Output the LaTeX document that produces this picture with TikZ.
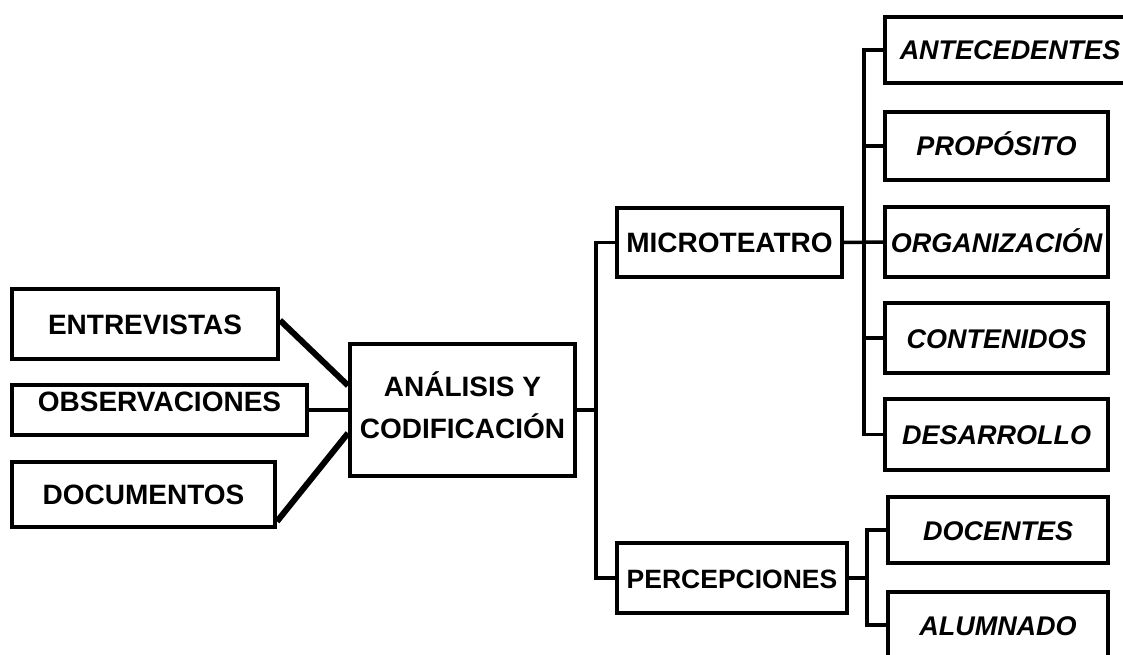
\documentclass[tikz,border=0pt]{standalone}
\usepackage{fontspec}
\setmainfont{Liberation Sans}
\usetikzlibrary{calc}
\begin{document}
\begin{tikzpicture}[x=1pt,y=-1pt,
 box/.style={draw,line width=4pt,inner sep=0pt,text height=20pt,text depth=0pt,font=\fontsize{28}{34}\selectfont\bfseries},
 ibox/.style={box,font=\fontsize{27}{32}\selectfont\bfseries\itshape},
 link/.style={line width=3.5pt},
 heavy/.style={line width=6pt}]
\useasboundingbox (0,0) rectangle (1123,655);
\clip (0,0) rectangle (1123,655);
% left sources
\node[box,minimum width=266pt,minimum height=70pt] (ent) at (145,324) {ENTREVISTAS};
\node[box,minimum width=295pt,minimum height=50pt] (obs) at (159.5,410) {\raisebox{9pt}{OBSERVACIONES}};
\node[box,minimum width=263pt,minimum height=65pt] (doc) at (143.5,494.5) {DOCUMENTOS};
% centre
\node[draw,line width=4pt,inner sep=0pt,align=center,minimum width=225pt,minimum height=132pt,
      text height=64pt,text depth=8pt,
      font=\fontsize{28}{42}\selectfont\bfseries] (ana) at (462.5,410) {ANÁLISIS Y\\CODIFICACIÓN};
% categories
\node[box,minimum width=225pt,minimum height=69pt] (mic) at (729.5,242.5) {MICROTEATRO};
\node[box,minimum width=230pt,minimum height=70pt,font=\fontsize{26.5}{32}\selectfont\bfseries] (per) at (732,578) {PERCEPCIONES};
% subcategories
\node[ibox,minimum width=250pt,minimum height=66pt] (ant) at (1010,50) {ANTECEDENTES};
\node[ibox,minimum width=223pt,minimum height=68pt] (pro) at (996.5,146) {PROPÓSITO};
\node[ibox,minimum width=223pt,minimum height=70pt] (org) at (996.5,242) {ORGANIZACIÓN};
\node[ibox,minimum width=223pt,minimum height=70pt] (con) at (996.5,338) {CONTENIDOS};
\node[ibox,minimum width=223pt,minimum height=71pt] (des) at (996.5,434.5) {DESARROLLO};
\node[ibox,minimum width=220pt,minimum height=66pt] (dcn) at (998,530) {DOCENTES};
\node[ibox,minimum width=220pt,minimum height=66pt] (alu) at (998,625) {ALUMNADO};
% connectors left
\draw[heavy] ($(ent.north east)!0.45!(ent.south east)$) -- ($(ana.north west)!0.32!(ana.south west)$);
\draw[link] (obs.east) -- (ana.west);
\draw[heavy] ($(doc.north east)!0.89!(doc.south east)$) -- ($(ana.north west)!0.67!(ana.south west)$);
% trunk to categories
\coordinate (t1) at (596,410);
\draw[link] (ana.east) -- (t1);
\draw[link] (mic.west) -| (t1) |- (per.west);
% microteatro branch
\coordinate (t2) at (864,242);
\draw[link] (mic.east) -- (org.west);
\draw[link] (ant.west) -| (t2) |- (des.west);
\draw[link] (pro.west) -- (pro.west -| t2);
\draw[link] (con.west) -- (con.west -| t2);
% percepciones branch
\coordinate (t3) at (867,578);
\draw[link] (per.east) -- (t3);
\draw[link] (dcn.west) -| (t3) |- (alu.west);
\end{tikzpicture}
\end{document}
